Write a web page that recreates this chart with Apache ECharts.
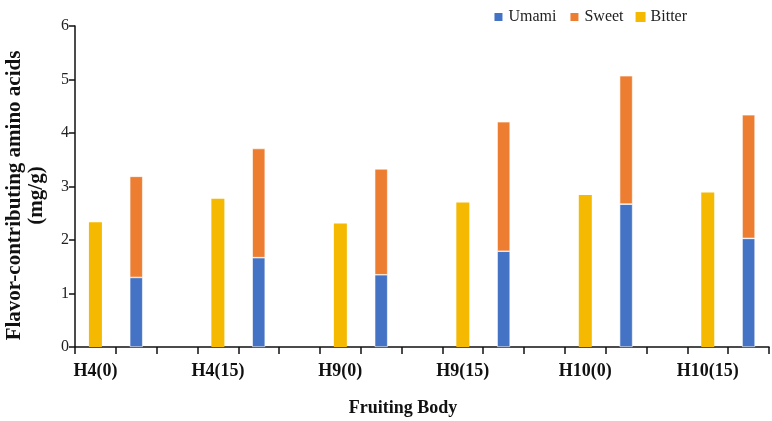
<!DOCTYPE html>
<html>
<head>
<meta charset="utf-8">
<script src="https://cdn.jsdelivr.net/npm/echarts@6/dist/echarts.min.js"></script>
<style>
  html, body { margin: 0; padding: 0; background: #fff; }
  #chart { width: 772px; height: 421px; }
</style>
</head>
<body>
<div id="chart"></div>
<script>
// values (mg/g)
var groups = ["H4(0)", "H4(15)", "H9(0)", "H9(15)", "H10(0)", "H10(15)"];
var bitter = [2.33, 2.77, 2.31, 2.70, 2.84, 2.89];
var umami = [1.30, 1.67, 1.35, 1.79, 2.67, 2.03];
var sweet = [1.89, 2.04, 1.98, 2.42, 2.40, 2.31];
var yTicks = [0, 1, 2, 3, 4, 5, 6];

// each group takes 3 slots: bitter, umami+sweet, gap (last gap dropped)
var slots = [];
var bitterData = [];
var umamiData = [];
var sweetData = [];
groups.forEach(function (g, i) {
  slots.push(g, g + "_s", g + "_gap");
  bitterData.push(bitter[i], "-", "-");
  umamiData.push("-", umami[i], "-");
  sweetData.push("-", sweet[i], "-");
});
slots.pop();
bitterData.pop();
umamiData.pop();
sweetData.pop();

var font = "'Liberation Serif', 'Times New Roman', serif";
var chart = echarts.init(document.getElementById("chart"));

var option = {
  animation: false,
  legend: {
    data: ["Umami", "Sweet", "Bitter"],
    right: 80,
    top: 4,
    itemWidth: 10,
    itemHeight: 10,
    itemGap: 12,
    icon: "rect",
    textStyle: { fontFamily: font, fontSize: 16, color: "#222" },
  },
  grid: {
    left: 75,
    right: 3,
    top: 26,
    bottom: 74,
    containLabel: false,
    outerBoundsMode: "none",
  },
  xAxis: {
    type: "category",
    data: slots,
    name: "Fruiting Body",
    nameLocation: "middle",
    nameGap: 52,
    nameTextStyle: {
      fontFamily: font, fontSize: 18, fontWeight: "bold", color: "#111",
      padding: [0, 38, 0, 0],
    },
    axisLine: { lineStyle: { color: "#111", width: 1.5 } },
    axisTick: { show: true, interval: 0, length: 7, lineStyle: { color: "#111", width: 1.5 } },
    axisLabel: {
      interval: 0,
      margin: 15,
      fontFamily: font,
      fontSize: 18,
      fontWeight: "bold",
      color: "#111",
      formatter: function (v) {
        return groups.indexOf(v) >= 0 ? v : "";
      },
    },
  },
  yAxis: {
    type: "value",
    min: yTicks[0],
    max: yTicks[yTicks.length - 1],
    interval: 1,
    name: "Flavor-contributing amino acids\n(mg/g)",
    nameLocation: "middle",
    nameGap: 27,
    nameTextStyle: {
      fontFamily: font, fontSize: 21, fontWeight: "bold", color: "#111", lineHeight: 22,
      padding: [0, 18, 0, 0],
    },
    axisLine: { show: true, lineStyle: { color: "#111", width: 1.5 } },
    axisTick: { show: true, length: 6, lineStyle: { color: "#111", width: 1.5 } },
    splitLine: { show: false },
    axisLabel: { fontFamily: font, fontSize: 16, color: "#222", margin: 6 },
  },
  series: [
    {
      name: "Umami",
      type: "bar",
      stack: "us",
      data: umamiData,
      barWidth: 13,
      barGap: "-100%",
      itemStyle: { color: "#4472C4", borderColor: "#fff", borderWidth: 0.6 },
    },
    {
      name: "Sweet",
      type: "bar",
      stack: "us",
      data: sweetData,
      barWidth: 13,
      barGap: "-100%",
      itemStyle: { color: "#ED7D31", borderColor: "#fff", borderWidth: 0.6 },
    },
    {
      name: "Bitter",
      type: "bar",
      data: bitterData,
      barWidth: 13,
      barGap: "-100%",
      itemStyle: { color: "#F4B900" },
    },
  ],
};

chart.setOption(option);
</script>
</body>
</html>
